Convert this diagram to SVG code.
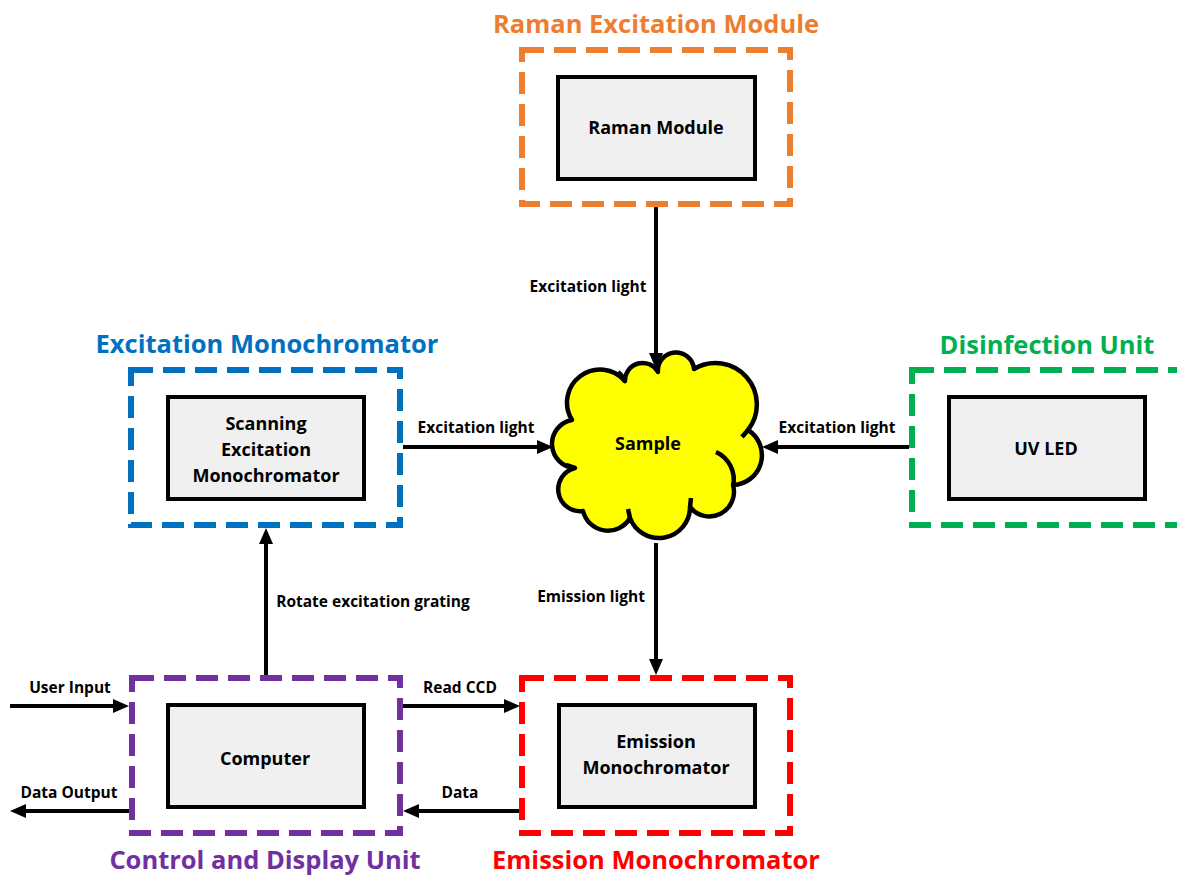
<svg xmlns="http://www.w3.org/2000/svg" width="1177" height="875" viewBox="0 0 1177 875">
  <defs>
    <marker id="arrow" markerUnits="userSpaceOnUse" markerWidth="18" markerHeight="16" refX="6" refY="7" orient="auto">
      <path d="M0,0 L16,7 L0,14 z" fill="#000"/>
    </marker>
    <style>
      .frame { fill: none; stroke-width: 6; stroke-dasharray: 22 10; }
      .box { fill: #F0F0F0; stroke: #000; stroke-width: 4; }
      .node-text { font-family: "Open Sans", "DejaVu Sans", sans-serif; font-weight: bold; font-size: 18px; fill: #000; text-anchor: middle; }
      .title { font-family: "Open Sans", "DejaVu Sans", sans-serif; font-weight: bold; font-size: 25.5px; text-anchor: middle; }
      .label { font-family: "Open Sans", "DejaVu Sans", sans-serif; font-weight: bold; font-size: 15.5px; fill: #000; text-anchor: middle; }
      .conn { stroke: #000; stroke-width: 4; fill: none; marker-end: url(#arrow); }
      .cloud { fill: #FFFF00; stroke: #000; stroke-width: 4.5; stroke-linejoin: round; }
      .cloud-line { fill: none; stroke: #000; stroke-width: 4.5; stroke-linecap: butt; }
    </style>
  </defs>
  <rect width="1177" height="875" fill="#fff"/>

  <!-- Raman excitation module -->
  <g id="raman-module">
    <rect class="frame" x="522" y="50" width="268" height="154" stroke="#ED7D31"/>
    <text class="title" x="656" y="33" fill="#ED7D31">Raman Excitation Module</text>
    <rect class="box" x="558" y="77" width="197" height="102"/>
    <text class="node-text" x="656" y="134">Raman Module</text>
  </g>

  <!-- Excitation monochromator -->
  <g id="excitation-monochromator">
    <rect class="frame" x="131" y="370" width="269" height="155" stroke="#0070C0"/>
    <text class="title" x="267" y="353" fill="#0070C0">Excitation Monochromator</text>
    <rect class="box" x="168" y="397" width="196" height="102"/>
    <text class="node-text" x="266" y="430">Scanning</text>
    <text class="node-text" x="266" y="456">Excitation</text>
    <text class="node-text" x="266" y="482">Monochromator</text>
  </g>

  <!-- Disinfection unit -->
  <g id="disinfection-unit">
    <rect class="frame" x="912" y="370" width="268" height="155" stroke="#00B050"/>
    <text class="title" x="1047" y="354" fill="#00B050">Disinfection Unit</text>
    <rect class="box" x="949" y="397" width="196" height="102"/>
    <text class="node-text" x="1046" y="455">UV LED</text>
  </g>

  <!-- Control and display unit -->
  <g id="control-display-unit">
    <rect class="frame" x="132" y="678" width="268" height="155" stroke="#7030A0"/>
    <text class="title" x="265" y="869" fill="#7030A0">Control and Display Unit</text>
    <rect class="box" x="168" y="705" width="196" height="102"/>
    <text class="node-text" x="265" y="765">Computer</text>
  </g>

  <!-- Emission monochromator -->
  <g id="emission-monochromator">
    <rect class="frame" x="522" y="678" width="268" height="155" stroke="#FF0000"/>
    <text class="title" x="656" y="869" fill="#FF0000">Emission Monochromator</text>
    <rect class="box" x="559" y="705" width="196" height="102"/>
    <text class="node-text" x="656" y="748">Emission</text>
    <text class="node-text" x="656" y="774">Monochromator</text>
  </g>

  <!-- Sample cloud -->
  <g id="sample">
    <path class="cloud" d="M 572 420 A 33 33 0 0 1 625 381 A 17.6 17.6 0 0 1 658 372 A 18 18 0 0 1 694 369 A 41.4 41.4 0 0 1 748 430 A 29.8 29.8 0 0 1 733 485 A 24.6 24.6 0 0 1 690 507 A 31 31 0 0 1 630 518 A 25.6 25.6 0 0 1 583 511 A 21.9 21.9 0 0 1 575 468 A 24.2 24.2 0 0 1 572 420 Z"/>
    <path class="cloud-line" d="M 716 452 A 30 30 0 0 1 733 486"/>
    <path class="cloud-line" d="M 618 372 A 22 22 0 0 1 625 382"/>
    <path class="cloud-line" d="M 690 507 L 691 498"/>
    <path class="cloud-line" d="M 630 518 L 628 509"/>
    <path class="cloud-line" d="M 748 430 L 742 437"/>
    <path class="cloud-line" d="M 575 468 L 566 465"/>
    <text class="node-text" x="648" y="450">Sample</text>
  </g>

  <!-- Connectors -->
  <g id="connectors">
    <line class="conn" x1="656" y1="207" x2="656" y2="359"/>
    <line class="conn" x1="403" y1="447" x2="543" y2="447"/>
    <line class="conn" x1="909" y1="447" x2="772" y2="447"/>
    <line class="conn" x1="656" y1="543" x2="656" y2="665"/>
    <line class="conn" x1="266" y1="675" x2="266" y2="538"/>
    <line class="conn" x1="10" y1="706" x2="119" y2="706"/>
    <line class="conn" x1="129" y1="811" x2="20" y2="811"/>
    <line class="conn" x1="403" y1="706" x2="510" y2="706"/>
    <line class="conn" x1="519" y1="811" x2="413" y2="811"/>

    <text class="label" x="588" y="292">Excitation light</text>
    <text class="label" x="476" y="433">Excitation light</text>
    <text class="label" x="837" y="433">Excitation light</text>
    <text class="label" x="591" y="602">Emission light</text>
    <text class="label" x="373" y="607">Rotate excitation grating</text>
    <text class="label" x="70" y="693">User Input</text>
    <text class="label" x="69" y="798">Data Output</text>
    <text class="label" x="460" y="693">Read CCD</text>
    <text class="label" x="460" y="798">Data</text>
  </g>
</svg>
